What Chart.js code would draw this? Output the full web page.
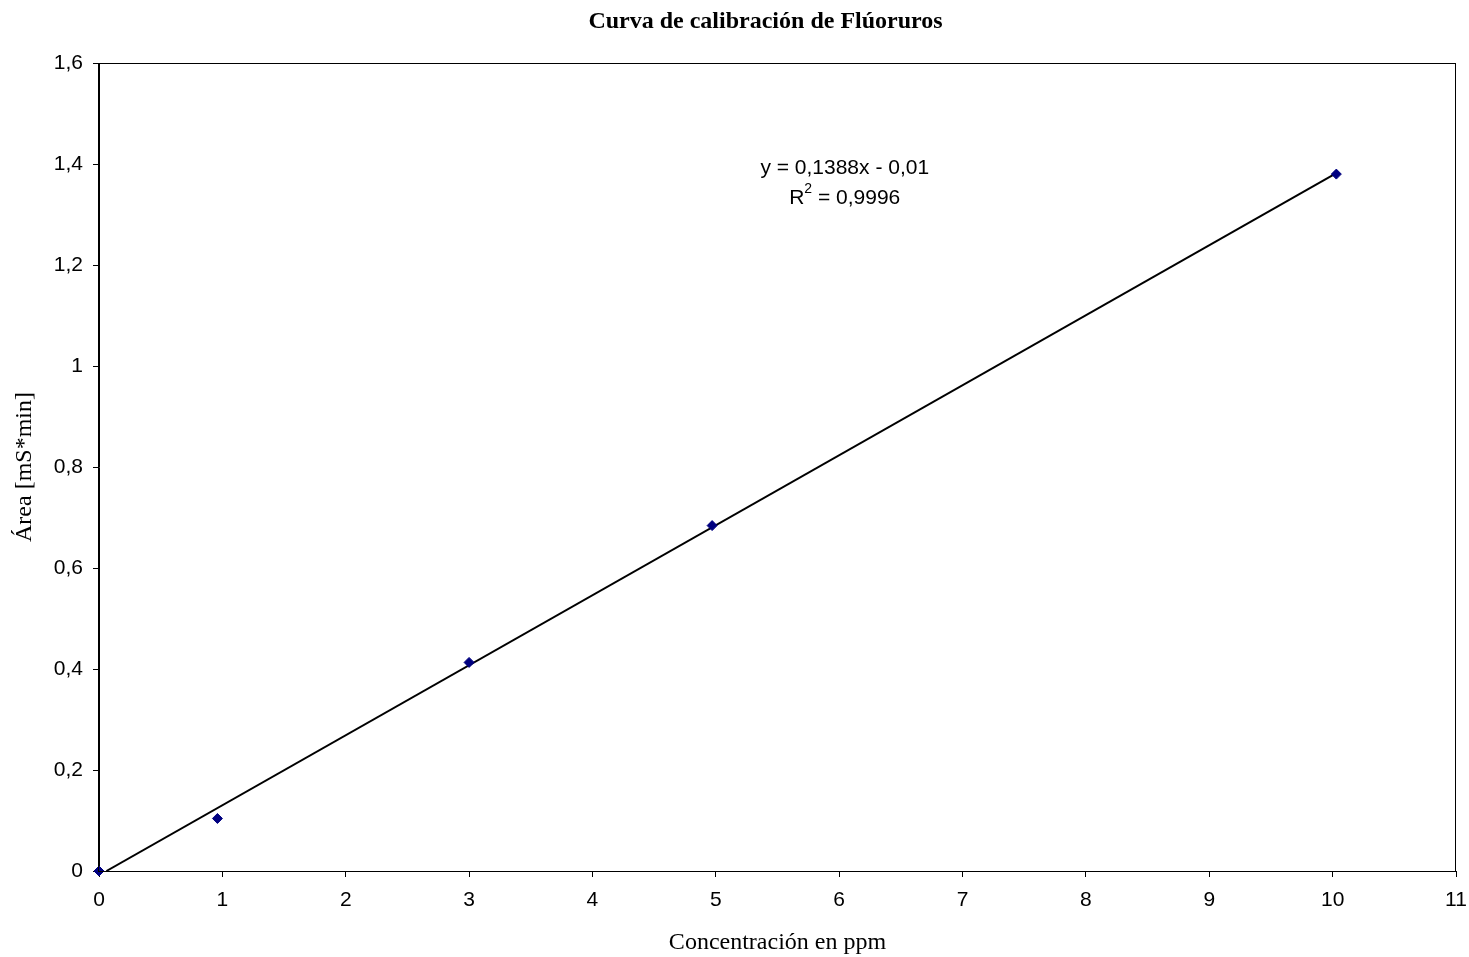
<!DOCTYPE html>
<html>
<head>
<meta charset="utf-8">
<script src="https://cdn.jsdelivr.net/npm/chart.js@4.4.1/dist/chart.umd.min.js"></script>
<style>
    html, body { margin: 0; padding: 0; background: #fff; }
    #wrap { width: 1469px; height: 957px; }
</style>
</head>
<body>
<div id="wrap"><canvas id="calibChart" width="1469" height="957"></canvas></div>
<script>
// Datos
const concentraciones = [0, 0.96, 3, 4.97, 10.03];
const areas = [0, 0.104, 0.413, 0.684, 1.38];

// Extremos de la línea de tendencia (y = 0,1388x - 0,01)
const tendenciaX = [0.06, 10.03];
const tendenciaY = [0, 1.382];

const ticksX = [0, 1, 2, 3, 4, 5, 6, 7, 8, 9, 10, 11];
const ticksY = [0, 0.2, 0.4, 0.6, 0.8, 1, 1.2, 1.4, 1.6];

const titulo = 'Curva de calibración de Flúoruros';
const tituloX = 'Concentración en ppm';
const tituloY = 'Área [mS*min]';
const ecuacion = 'y = 0,1388x - 0,01';
const r2Valor = ' = 0,9996';

const fuenteSans = '"Liberation Sans", Arial, sans-serif';
const fuenteSerif = '"Liberation Serif", "Times New Roman", serif';

// Formato con coma decimal
function formatoComa(v) {
    return String(Math.round(v * 10) / 10).replace('.', ',');
}

// Plugin: marco, título y ecuación
const decoracion = {
    id: 'decoracion',
    afterDraw(chart) {
        const ctx = chart.ctx;
        const a = chart.chartArea;
        ctx.save();
        ctx.strokeStyle = '#000';
        ctx.lineWidth = 1;
        ctx.strokeRect(Math.round(a.left) - 0.5, Math.round(a.top) + 0.5, Math.round(a.right - a.left), Math.round(a.bottom - a.top));

        ctx.fillStyle = '#000';
        ctx.textAlign = 'center';
        ctx.textBaseline = 'middle';
        ctx.font = 'bold 24px ' + fuenteSerif;
        ctx.fillText(titulo, (a.left + a.right) / 2 - 12, 22);

        const xs = chart.scales.x;
        const ys = chart.scales.y;
        const cx = xs.getPixelForValue(6.045);
        ctx.font = '21px ' + fuenteSans;
        ctx.fillText(ecuacion, cx, ys.getPixelForValue(1.392));

        // R² con superíndice
        const wR = ctx.measureText('R').width;
        const wV = ctx.measureText(r2Valor).width;
        ctx.font = '14px ' + fuenteSans;
        const w2 = ctx.measureText('2').width;
        const total = wR + w2 + wV;
        const x0 = cx - total / 2;
        const yR = ys.getPixelForValue(1.333);
        ctx.textAlign = 'left';
        ctx.font = '21px ' + fuenteSans;
        ctx.fillText('R', x0, yR);
        ctx.font = '14px ' + fuenteSans;
        ctx.fillText('2', x0 + wR, yR - 9);
        ctx.font = '21px ' + fuenteSans;
        ctx.fillText(r2Valor, x0 + wR + w2, yR);
        ctx.restore();
    }
};

const ctx = document.getElementById('calibChart');
new Chart(ctx, {
    type: 'scatter',
    data: {
        datasets: [
            {
                label: 'Tendencia',
                data: tendenciaX.map((x, i) => ({ x: x, y: tendenciaY[i] })),
                showLine: true,
                borderColor: '#000',
                borderWidth: 2,
                pointRadius: 0,
                fill: false,
                order: 2
            },
            {
                label: 'Área',
                data: concentraciones.map((x, i) => ({ x: x, y: areas[i] })),
                pointStyle: 'rectRot',
                pointRadius: 5,
                pointBackgroundColor: '#000080',
                pointBorderColor: '#000080',
                pointBorderWidth: 1,
                order: 1,
                clip: false
            }
        ]
    },
    options: {
        responsive: false,
        animation: false,
        layout: {
            padding: { top: 63, right: 13, bottom: 0, left: 0 }
        },
        plugins: {
            legend: { display: false },
            title: { display: false },
            tooltip: { enabled: false }
        },
        scales: {
            x: {
                type: 'linear',
                min: 0,
                max: 11,
                afterFit(scale) {
                    scale.height = 86;
                    scale.paddingLeft = 0;
                    scale.paddingRight = 0;
                },
                afterBuildTicks(scale) { scale.ticks = ticksX.map(v => ({ value: v })); },
                grid: {
                    drawOnChartArea: false,
                    drawTicks: true,
                    tickLength: 6,
                    color: '#000'
                },
                border: { display: true, color: '#000', width: 1 },
                ticks: {
                    color: '#000',
                    padding: 11,
                    maxRotation: 0,
                    font: { family: fuenteSans, size: 21 },
                    callback: v => formatoComa(v)
                },
                title: {
                    display: true,
                    text: tituloX,
                    color: '#000',
                    padding: { top: 3, bottom: 0 },
                    font: { family: fuenteSerif, size: 24 }
                }
            },
            y: {
                type: 'linear',
                min: 0,
                max: 1.6,
                afterFit(scale) {
                    scale.width = 99;
                    scale.paddingTop = 0;
                    scale.paddingBottom = 0;
                },
                afterBuildTicks(scale) { scale.ticks = ticksY.map(v => ({ value: v })); },
                grid: {
                    drawOnChartArea: false,
                    drawTicks: true,
                    tickLength: 6,
                    color: '#000'
                },
                border: { display: true, color: '#000', width: 1 },
                ticks: {
                    color: '#000',
                    padding: 10,
                    font: { family: fuenteSans, size: 21 },
                    callback: v => formatoComa(v)
                },
                title: {
                    display: true,
                    text: tituloY,
                    color: '#000',
                    padding: { top: 10, bottom: 0 },
                    font: { family: fuenteSerif, size: 24 }
                }
            }
        }
    },
    plugins: [decoracion]
});
</script>
</body>
</html>
